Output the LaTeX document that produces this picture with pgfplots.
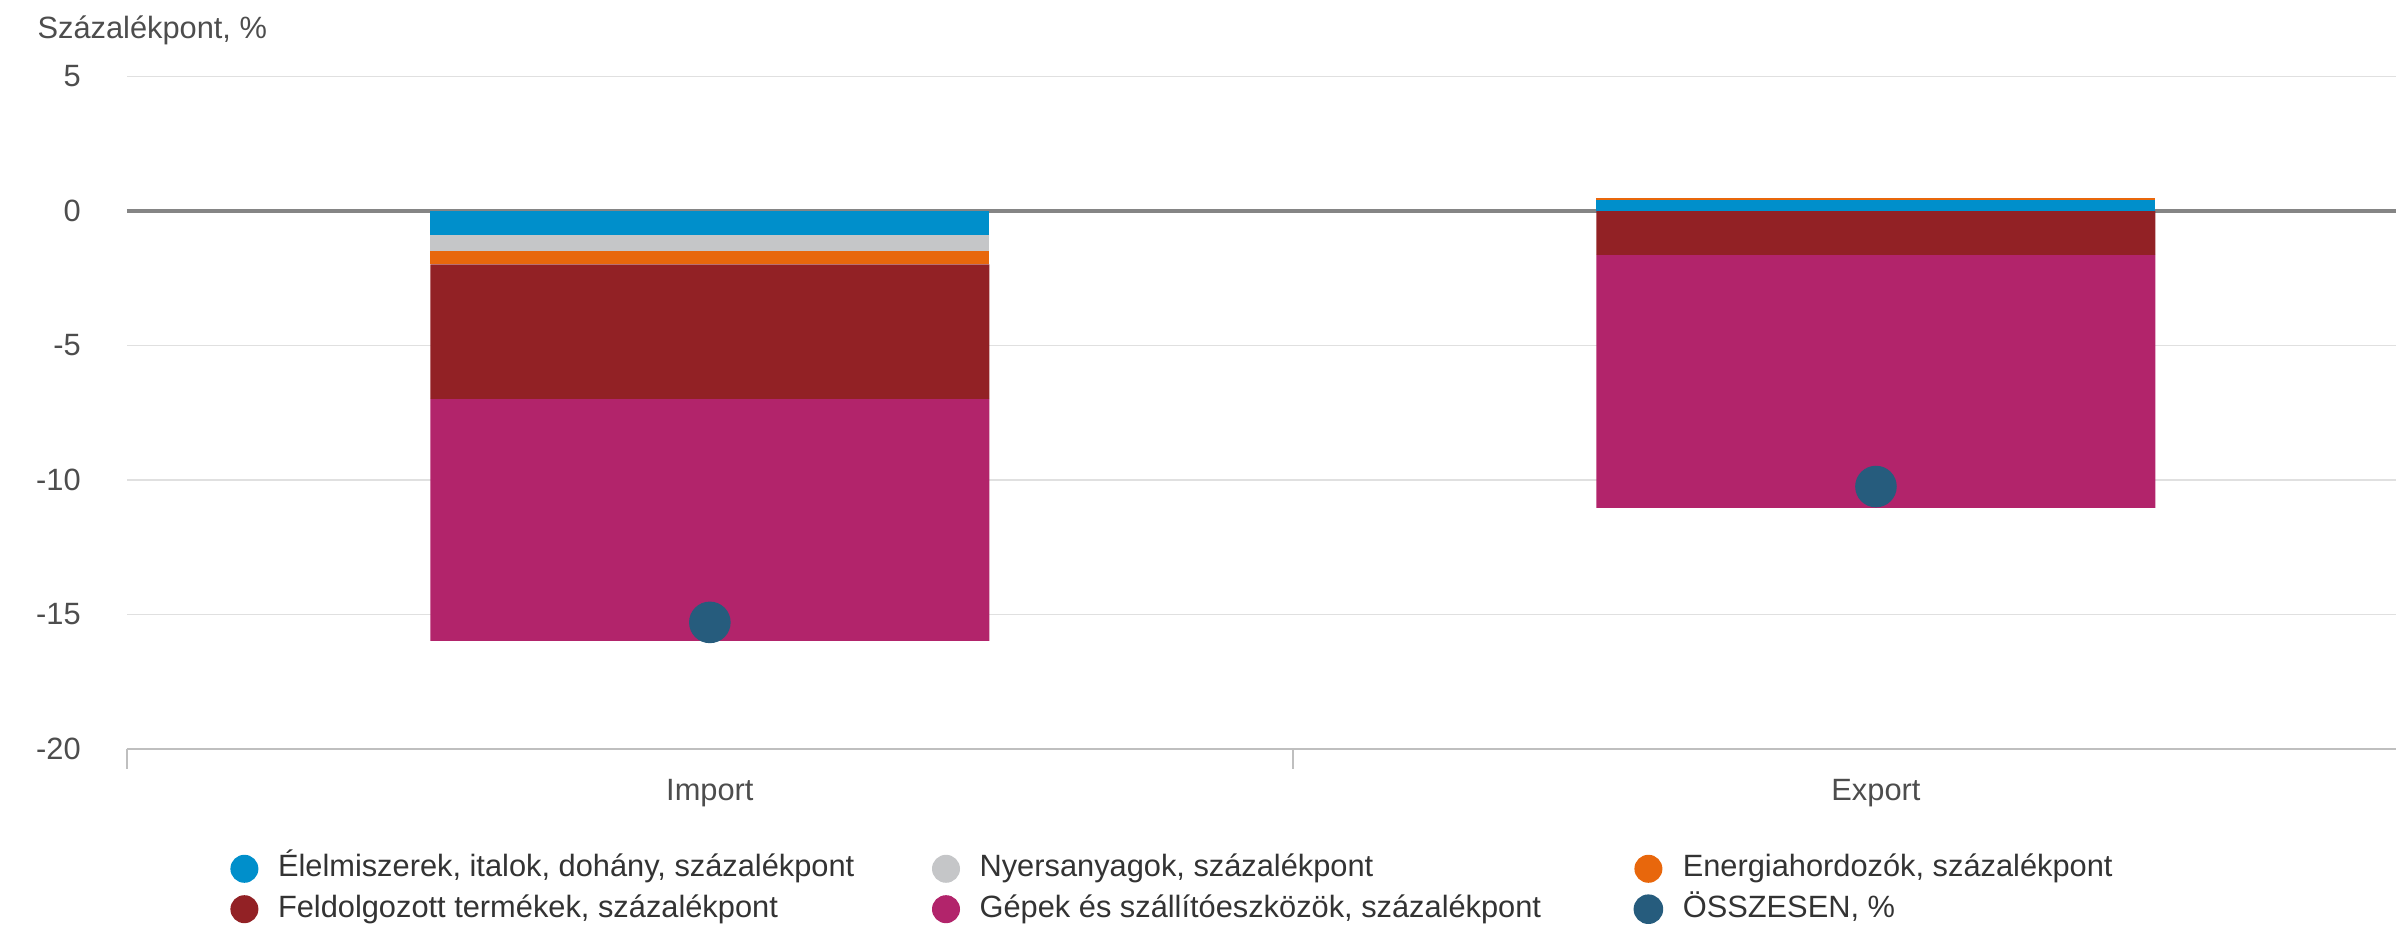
\documentclass[border=0pt]{standalone}
\usepackage{pgfplots}
\pgfplotsset{compat=1.18}
\usepackage{fontspec}
\setmainfont{Liberation Sans}
\definecolor{cBlue}{HTML}{008FCB}
\definecolor{cGray}{HTML}{C5C6C8}
\definecolor{cOrange}{HTML}{E8670C}
\definecolor{cRed}{HTML}{922125}
\definecolor{cMag}{HTML}{B2246B}
\definecolor{cDot}{HTML}{265C7D}
\definecolor{cGrid}{HTML}{E0E0E0}
\definecolor{cZero}{HTML}{858585}
\definecolor{cAxis}{HTML}{BFBFBF}
\definecolor{cText}{HTML}{4D4D4D}
\definecolor{cLeg}{HTML}{333333}
\pgfplotsset{base/.style={width=567.3pt, height=168.1pt, scale only axis,
  xmin=-0.5, xmax=1.446, ymin=-20, ymax=5, at={(0,0)}, anchor=south west}}
\newcommand{\lf}{\fontsize{7.7}{9}\selectfont}
\begin{document}
\begin{tikzpicture}
\begin{axis}[base, name=main,
  ybar stacked, bar width=139.75pt,
  axis x line*=bottom, axis y line*=left,
  y axis line style={draw=none},
  x axis line style={draw=cAxis, line width=0.5pt},
  xtick={0,1}, xticklabels={Import,Export},
  xtick style={draw=none},
  extra x ticks={-0.5,0.5,1.5}, extra x tick labels={},
  extra x tick style={xtick style={draw=cAxis, line width=0.4pt}, major tick length=5pt, tick align=outside, xmajorgrids=false},
  ytick={-20,-15,-10,-5,0,5},
  ymajorgrids, grid style={cGrid, line width=0.4pt},
  ytick style={draw=none},
  extra y ticks={0}, extra y tick labels={},
  extra y tick style={ymajorgrids=true, grid style={cZero, line width=1.1pt}, ytick style={draw=none}},
  tick label style={font=\lf, text=cText},
  /pgf/number format/assume math mode=true,
  yticklabel style={xshift=-8pt},
  xticklabel style={yshift=-4pt},
  legend columns=3,
  legend cell align=left,
  legend style={at={(axis description cs:0,0)}, anchor=north west,
    xshift=25.9pt, yshift=-26.4pt, draw=none, fill=none,
    inner sep=0pt, outer sep=0pt, row sep=2.8pt,
    font=\lf, text=cLeg,
    nodes={inner sep=0pt, text height=5.6pt, text depth=1.6pt},
    /tikz/every odd column/.append style={column sep=4.9pt}},
]
\addplot[fill=cBlue, draw=none, legend image code/.code={\fill[cBlue] (3.5pt,0pt) circle (3.5pt);}]
  coordinates {(0,-0.89) (1,0)};
\addlegendentry{\makebox[163.5pt][l]{Élelmiszerek, italok, dohány, százalékpont}}
\addplot[fill=cGray, draw=none, legend image code/.code={\fill[cGray] (3.5pt,0pt) circle (3.5pt);}]
  coordinates {(0,-0.6) (1,0)};
\addlegendentry{\makebox[163.5pt][l]{Nyersanyagok, százalékpont}}
\addplot[fill=cOrange, draw=none, legend image code/.code={\fill[cOrange] (3.5pt,0pt) circle (3.5pt);}]
  coordinates {(0,-0.5) (1,0)};
\addlegendentry{\makebox[163.5pt][l]{Energiahordozók, százalékpont}}
\addplot[fill=cRed, draw=none, legend image code/.code={\fill[cRed] (3.5pt,0pt) circle (3.5pt);}]
  coordinates {(0,-5.0) (1,-1.64)};
\addlegendentry{\makebox[163.5pt][l]{Feldolgozott termékek, százalékpont}}
\addplot[fill=cMag, draw=none, legend image code/.code={\fill[cMag] (3.5pt,0pt) circle (3.5pt);}]
  coordinates {(0,-9.0) (1,-9.4)};
\addlegendentry{\makebox[163.5pt][l]{Gépek és szállítóeszközök, százalékpont}}
\addlegendimage{legend image code/.code={\fill[cDot] (3.5pt,0pt) circle (3.5pt);}}
\addlegendentry{\makebox[163.5pt][l]{ÖSSZESEN, \%}}
\end{axis}
\begin{axis}[base, hide axis, ybar stacked, bar width=139.75pt]
\addplot[fill=cBlue, draw=none] coordinates {(0,0) (1,0.40)};
\addplot[fill=cOrange, draw=none] coordinates {(0,0) (1,0.07)};
\end{axis}
\begin{axis}[base, hide axis]
\addplot[only marks, mark=*, mark size=5pt, color=cDot] coordinates {(0,-15.3) (1,-10.25)};
\end{axis}
\node[anchor=base west, inner sep=0pt, font=\lf, text=cText, xshift=-22.5pt, yshift=9.5pt]
  at (main.north west) {Százalékpont, \%};
\pgfresetboundingbox
\path[use as bounding box] (-31.7pt,-47.55pt) rectangle (567.3pt,187.2pt);
\end{tikzpicture}
\end{document}
